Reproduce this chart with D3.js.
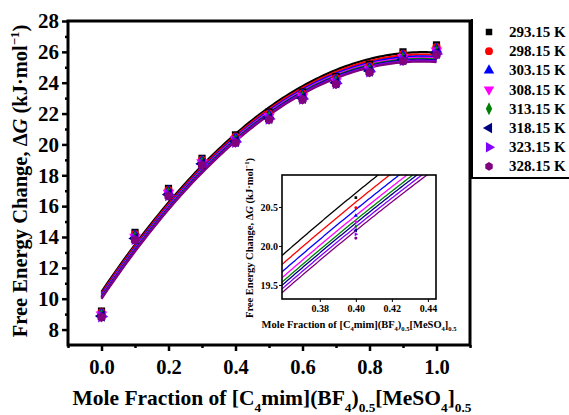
<!DOCTYPE html>
<html>
<head>
<meta charset="utf-8">
<script src="https://cdn.jsdelivr.net/npm/d3@7"></script>
<style>
  html, body { margin: 0; padding: 0; background: #fff; }
  svg { display: block; }
  svg text { font-family: "Liberation Serif", "Times New Roman", "DejaVu Serif", serif; font-weight: bold; }
</style>
</head>
<body>
<svg id="chart" width="569" height="415"></svg>
<script>
// Mole fraction of the ionic liquid
const moleFraction = [0.0, 0.1, 0.2, 0.3, 0.4, 0.5, 0.6, 0.7, 0.8, 0.9, 1.0];

// Temperatures (legend labels)
const temperatures = ["293.15 K", "298.15 K", "303.15 K", "308.15 K", "313.15 K", "318.15 K", "323.15 K", "328.15 K"];

// Free energy change ΔG (kJ·mol⁻¹) per temperature
const dG_29315 = [9.20, 14.30, 17.15, 19.10, 20.62, 22.10, 23.40, 24.40, 25.20, 26.00, 26.45];
const dG_29815 = [9.10, 14.18, 17.03, 18.99, 20.49, 21.98, 23.28, 24.28, 25.07, 25.85, 26.29];
const dG_30315 = [9.02, 14.08, 16.93, 18.90, 20.39, 21.88, 23.18, 24.18, 24.96, 25.73, 26.16];
const dG_30815 = [8.96, 14.00, 16.85, 18.83, 20.31, 21.80, 23.10, 24.10, 24.88, 25.64, 26.06];
const dG_31315 = [8.91, 13.94, 16.79, 18.78, 20.25, 21.74, 23.04, 24.04, 24.81, 25.57, 25.98];
const dG_31815 = [8.88, 13.90, 16.75, 18.74, 20.20, 21.70, 23.00, 24.00, 24.76, 25.51, 25.92];
const dG_32315 = [8.84, 13.85, 16.70, 18.70, 20.15, 21.65, 22.95, 23.95, 24.71, 25.46, 25.86];
const dG_32815 = [8.80, 13.80, 16.65, 18.65, 20.10, 21.60, 22.90, 23.90, 24.66, 25.40, 25.80];

const seriesValues = [dG_29315, dG_29815, dG_30315, dG_30815, dG_31315, dG_31815, dG_32315, dG_32815];
const seriesColors = ["#000000", "#ff0000", "#0000ff", "#ff00ff", "#008000", "#000080", "#8000ff", "#800080"];

// Tick values
const yTicksMain = [8, 10, 12, 14, 16, 18, 20, 22, 24, 26, 28];
const xTicksMain = [0.0, 0.2, 0.4, 0.6, 0.8, 1.0];
const yTicksInset = [19.5, 20.0, 20.5];
const xTicksInset = [0.38, 0.40, 0.42, 0.44];

// ---------- helpers ----------
// Least-squares quadratic fit y = a + b x + c x^2
function quadFit(xs, ys) {
  let S = [0, 0, 0, 0, 0], T = [0, 0, 0];
  xs.forEach((x, i) => {
    let p = 1;
    for (let k = 0; k < 5; k++) { S[k] += p; p *= x; }
    T[0] += ys[i]; T[1] += ys[i] * x; T[2] += ys[i] * x * x;
  });
  const M = [[S[0], S[1], S[2], T[0]], [S[1], S[2], S[3], T[1]], [S[2], S[3], S[4], T[2]]];
  for (let i = 0; i < 3; i++) {
    for (let j = i + 1; j < 3; j++) {
      const f = M[j][i] / M[i][i];
      for (let k = i; k < 4; k++) M[j][k] -= f * M[i][k];
    }
  }
  const c = [0, 0, 0];
  for (let i = 2; i >= 0; i--) {
    let s = M[i][3];
    for (let k = i + 1; k < 3; k++) s -= M[i][k] * c[k];
    c[i] = s / M[i][i];
  }
  return x => c[0] + c[1] * x + c[2] * x * x;
}
const fits = seriesValues.map(v => quadFit(moleFraction, v));

const hexagon = {
  draw(ctx, size) {
    const r = Math.sqrt(size / (1.5 * Math.sqrt(3)));
    for (let i = 0; i < 6; i++) {
      const a = Math.PI / 3 * i + Math.PI / 6;
      const px = r * Math.cos(a), py = r * Math.sin(a);
      if (i === 0) ctx.moveTo(px, py); else ctx.lineTo(px, py);
    }
    ctx.closePath();
  }
};
const markerTypes = [
  { type: d3.symbolSquare, rot: 0 },
  { type: d3.symbolCircle, rot: 0 },
  { type: d3.symbolTriangle, rot: 0 },
  { type: d3.symbolTriangle, rot: 180 },
  { type: d3.symbolDiamond, rot: 0, sx: 0.85 },
  { type: d3.symbolTriangle, rot: -90 },
  { type: d3.symbolTriangle, rot: 90 },
  { type: hexagon, rot: 0 }
];
function markerTransform(i, x, y) {
  const m = markerTypes[i];
  let t = `translate(${x},${y})`;
  if (m.rot) t += ` rotate(${m.rot})`;
  if (m.sx) t += ` scale(${m.sx},1)`;
  return t;
}

// Write text with subscript / superscript / italic pieces
function richText(sel, parts, baseSize) {
  let shift = 0;
  parts.forEach(p => {
    const ts = sel.append("tspan").text(p.t);
    let target = 0;
    if (p.sub) target = baseSize * 0.32;
    if (p.sup) target = -baseSize * 0.4;
    if (target !== shift) { ts.attr("dy", target - shift); shift = target; }
    if (p.sub || p.sup) ts.attr("font-size", baseSize * 0.62);
    if (p.it) ts.attr("font-style", "italic");
  });
}

const svg = d3.select("#chart");

// ---------- main plot ----------
const M = { left: 68, right: 470, top: 21, bottom: 345 };
const x = d3.scaleLinear().domain([-0.1, 1.1]).range([M.left, M.right]);
const y = d3.scaleLinear().domain([7, 28]).range([M.bottom, M.top]);

const main = svg.append("g");

// fitted curves
const curveXs = d3.range(0, 1.0001, 0.01);
const lineMain = d3.line().x(d => x(d[0])).y(d => y(d[1]));
fits.forEach((f, i) => {
  main.append("path")
    .attr("d", lineMain(curveXs.map(t => [t, f(t)])))
    .attr("fill", "none")
    .attr("stroke", seriesColors[i])
    .attr("stroke-width", 2.2);
});

// data points
seriesValues.forEach((vals, i) => {
  const sym = d3.symbol().type(markerTypes[i].type).size(i === 0 ? 52 : 58);
  main.selectAll(null).data(vals).enter().append("path")
    .attr("d", sym())
    .attr("transform", (d, k) => markerTransform(i, x(moleFraction[k]), y(d)))
    .attr("fill", seriesColors[i]);
});

// axes
const yAxis = d3.axisLeft(y).tickValues(yTicksMain).tickSize(6).tickPadding(3).tickFormat(d3.format("d"));
const yMinor = d3.axisLeft(y).tickValues(d3.range(9, 28, 2)).tickSize(3).tickFormat("");
const xAxis = d3.axisBottom(x).tickValues(xTicksMain).tickSize(6).tickPadding(8).tickFormat(d3.format(".1f"));
const xMinor = d3.axisBottom(x).tickValues([-0.1, 0.1, 0.3, 0.5, 0.7, 0.9, 1.1]).tickSize(3).tickFormat("");

function styleAxis(g, size) {
  g.select(".domain").remove();
  g.selectAll(".tick line").attr("stroke", "#000").attr("stroke-width", 2.5);
  g.selectAll(".tick text").attr("font-family", null)
    .attr("font-size", size).attr("fill", "#000");
}
main.append("g").attr("transform", `translate(${M.left},0)`).call(yAxis).call(g => styleAxis(g, 21));
main.append("g").attr("transform", `translate(${M.left},0)`).call(yMinor).call(g => styleAxis(g, 21));
main.append("g").attr("transform", `translate(0,${M.bottom})`).call(xAxis).call(g => styleAxis(g, 20.5));
main.append("g").attr("transform", `translate(0,${M.bottom})`).call(xMinor).call(g => styleAxis(g, 20.5));

// frame
main.append("rect")
  .attr("x", M.left).attr("y", M.top)
  .attr("width", M.right - M.left).attr("height", M.bottom - M.top)
  .attr("fill", "none").attr("stroke", "#000").attr("stroke-width", 3);

// axis titles
const yTitle = main.append("text")
  .attr("transform", `translate(27,181) rotate(-90)`)
  .attr("text-anchor", "middle").attr("font-size", 20.5).attr("fill", "#000");
richText(yTitle, [
  { t: "Free Energy Change, Δ" }, { t: "G", it: true }, { t: " (kJ·mol" },
  { t: "−1", sup: true }, { t: ")" }
], 20.5);

const xTitle = main.append("text")
  .attr("x", 272).attr("y", 405)
  .attr("text-anchor", "middle").attr("font-size", 21.5).attr("fill", "#000");
richText(xTitle, [
  { t: "Mole Fraction of [C" }, { t: "4", sub: true }, { t: "mim](BF" }, { t: "4", sub: true },
  { t: ")" }, { t: "0.5", sub: true }, { t: "[MeSO" }, { t: "4", sub: true }, { t: "]" },
  { t: "0.5", sub: true }
], 21.5);

// ---------- legend ----------
const legend = svg.append("g");
legend.append("path")
  .attr("d", "M472,19 V178 H569")
  .attr("fill", "none").attr("stroke", "#000").attr("stroke-width", 2);
temperatures.forEach((t, i) => {
  const ly = 32 + i * 19.2;
  const sym = d3.symbol().type(markerTypes[i].type).size(i === 0 ? 42 : 48);
  legend.append("path").attr("d", sym())
    .attr("transform", markerTransform(i, 489, ly))
    .attr("fill", seriesColors[i]);
  legend.append("text")
    .attr("x", 509).attr("y", ly + 5)
    .attr("font-size", 15).attr("fill", "#000").text(t);
});

// ---------- inset ----------
const I = { left: 282, right: 436, top: 175, bottom: 299 };
const xi = d3.scaleLinear().domain([0.359, 0.4445]).range([I.left, I.right]);
const yi = d3.scaleLinear().domain([19.32, 20.91]).range([I.bottom, I.top]);
const inset = svg.append("g");

inset.append("rect")
  .attr("x", I.left).attr("y", I.top)
  .attr("width", I.right - I.left).attr("height", I.bottom - I.top)
  .attr("fill", "#fff");

svg.append("defs").append("clipPath").attr("id", "insetClip")
  .append("rect")
  .attr("x", I.left).attr("y", I.top)
  .attr("width", I.right - I.left).attr("height", I.bottom - I.top);

const plotI = inset.append("g").attr("clip-path", "url(#insetClip)");
const insetXs = d3.range(0.355, 0.45, 0.001);
const lineInset = d3.line().x(d => xi(d[0])).y(d => yi(d[1]));
fits.forEach((f, i) => {
  plotI.append("path")
    .attr("d", lineInset(insetXs.map(t => [t, f(t)])))
    .attr("fill", "none")
    .attr("stroke", seriesColors[i])
    .attr("stroke-width", 1.3);
});
seriesValues.forEach((vals, i) => {
  const sym = d3.symbol().type(markerTypes[i].type).size(7);
  plotI.selectAll(null).data(vals).enter().append("path")
    .attr("d", sym())
    .attr("transform", (d, k) => markerTransform(i, xi(moleFraction[k]), yi(d)))
    .attr("fill", seriesColors[i]);
});

const yAxisI = d3.axisLeft(yi).tickValues(yTicksInset).tickSize(3).tickPadding(1).tickFormat(d3.format(".1f"));
const xAxisI = d3.axisBottom(xi).tickValues(xTicksInset).tickSize(3).tickPadding(3).tickFormat(d3.format(".2f"));
inset.append("g").attr("transform", `translate(${I.left},0)`).call(yAxisI).call(g => {
  styleAxis(g, 10); g.selectAll(".tick line").attr("stroke-width", 1);
});
inset.append("g").attr("transform", `translate(0,${I.bottom})`).call(xAxisI).call(g => {
  styleAxis(g, 10); g.selectAll(".tick line").attr("stroke-width", 1);
});
inset.append("rect")
  .attr("x", I.left).attr("y", I.top)
  .attr("width", I.right - I.left).attr("height", I.bottom - I.top)
  .attr("fill", "none").attr("stroke", "#000").attr("stroke-width", 1.6);

const yTitleI = inset.append("text")
  .attr("transform", `translate(253,238) rotate(-90)`)
  .attr("text-anchor", "middle").attr("font-size", 10.5).attr("fill", "#000");
richText(yTitleI, [
  { t: "Free Energy Change, Δ" }, { t: "G", it: true }, { t: " (kJ·mol" },
  { t: "−1", sup: true }, { t: ")" }
], 10.5);

const xTitleI = inset.append("text")
  .attr("x", 359).attr("y", 328)
  .attr("text-anchor", "middle").attr("font-size", 10.5).attr("fill", "#000");
richText(xTitleI, [
  { t: "Mole Fraction of [C" }, { t: "4", sub: true }, { t: "mim](BF" }, { t: "4", sub: true },
  { t: ")" }, { t: "0.5", sub: true }, { t: "[MeSO" }, { t: "4", sub: true }, { t: "]" },
  { t: "0.5", sub: true }
], 10.5);
</script>
</body>
</html>
